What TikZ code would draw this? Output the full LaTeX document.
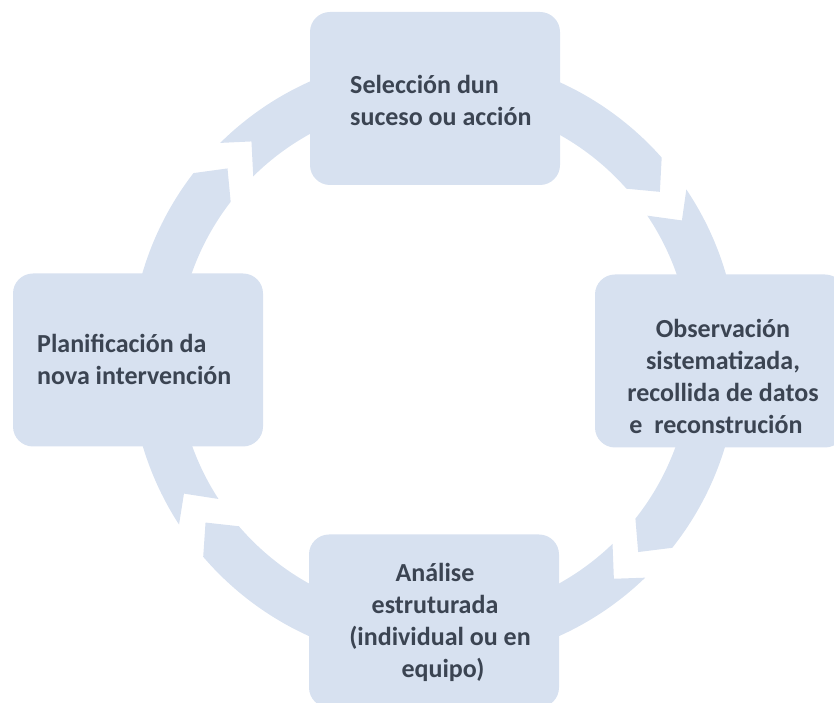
\documentclass[tikz,border=0pt]{standalone}
\usepackage{fontspec}
\setmainfont{Carlito}
\definecolor{boxfill}{RGB}{215,225,240}
\definecolor{txtcol}{RGB}{59,68,82}
\tikzset{
  ringpart/.style={fill=boxfill},
  stagebox/.style={fill=boxfill, draw=none, rounded corners=20pt, minimum width=250pt, minimum height=173pt, inner sep=0pt},
  stagetext/.style={text=txtcol, font=\fontsize{26}{32}\selectfont\bfseries, inner sep=0pt, anchor=base}
}
% one chevron-shaped ring segment, clockwise from tail break #1 to head break #2
\newcommand\ringseg[2]{%
  \fill[ringpart] ({#1-2.6}:304pt) arc[start angle={#1-2.6}, end angle={#2+5}, radius=304pt]
    -- (#2:281pt) -- ({#2+5}:257pt)
    arc[start angle={#2+5}, end angle={#1-2.6}, radius=257pt]
    -- ({#1-7.3}:284pt) -- cycle;}
\begin{document}
\begin{tikzpicture}[x=1pt,y=1pt]
\useasboundingbox (0,0) rectangle (834,703);
\clip (0,0) rectangle (834,703);
\coordinate (ctr) at (434,344);
\begin{scope}[shift={(ctr)}]
  \ringseg{137.3}{36.5}
  \ringseg{36.5}{-43.4}
  \ringseg{-43.4}{-144.4}
  \ringseg{-144.4}{-222.7}
\end{scope}
\node[stagebox] (sel) at (435,604.5) {};
\node[stagebox] (obs) at (720,342) {};
\node[stagebox] (pla) at (138,343) {};
\node[stagebox] (ana) at (434,82) {};
\node[stagetext, anchor=base west] (selt) at (350,609)
  {\begin{tabular}[t]{@{}l@{}}Selección dun\\suceso ou acción\end{tabular}};
\node[stagetext] (obst) at (723,365)
  {\begin{tabular}[t]{@{}c@{}}Observación\\sistematizada,\\recollida de datos\\e\ \ reconstrución\hspace*{14pt}\end{tabular}};
\node[stagetext, anchor=base west] (plat) at (37,350)
  {\begin{tabular}[t]{@{}l@{}}Planificación da\\nova intervención\end{tabular}};
\node[stagetext] (anat) at (435,121)
  {\begin{tabular}[t]{@{}c@{}}Análise\\estruturada\\\hspace*{10pt}(individual ou en\\\hspace*{16pt}equipo)\end{tabular}};
\end{tikzpicture}
\end{document}
